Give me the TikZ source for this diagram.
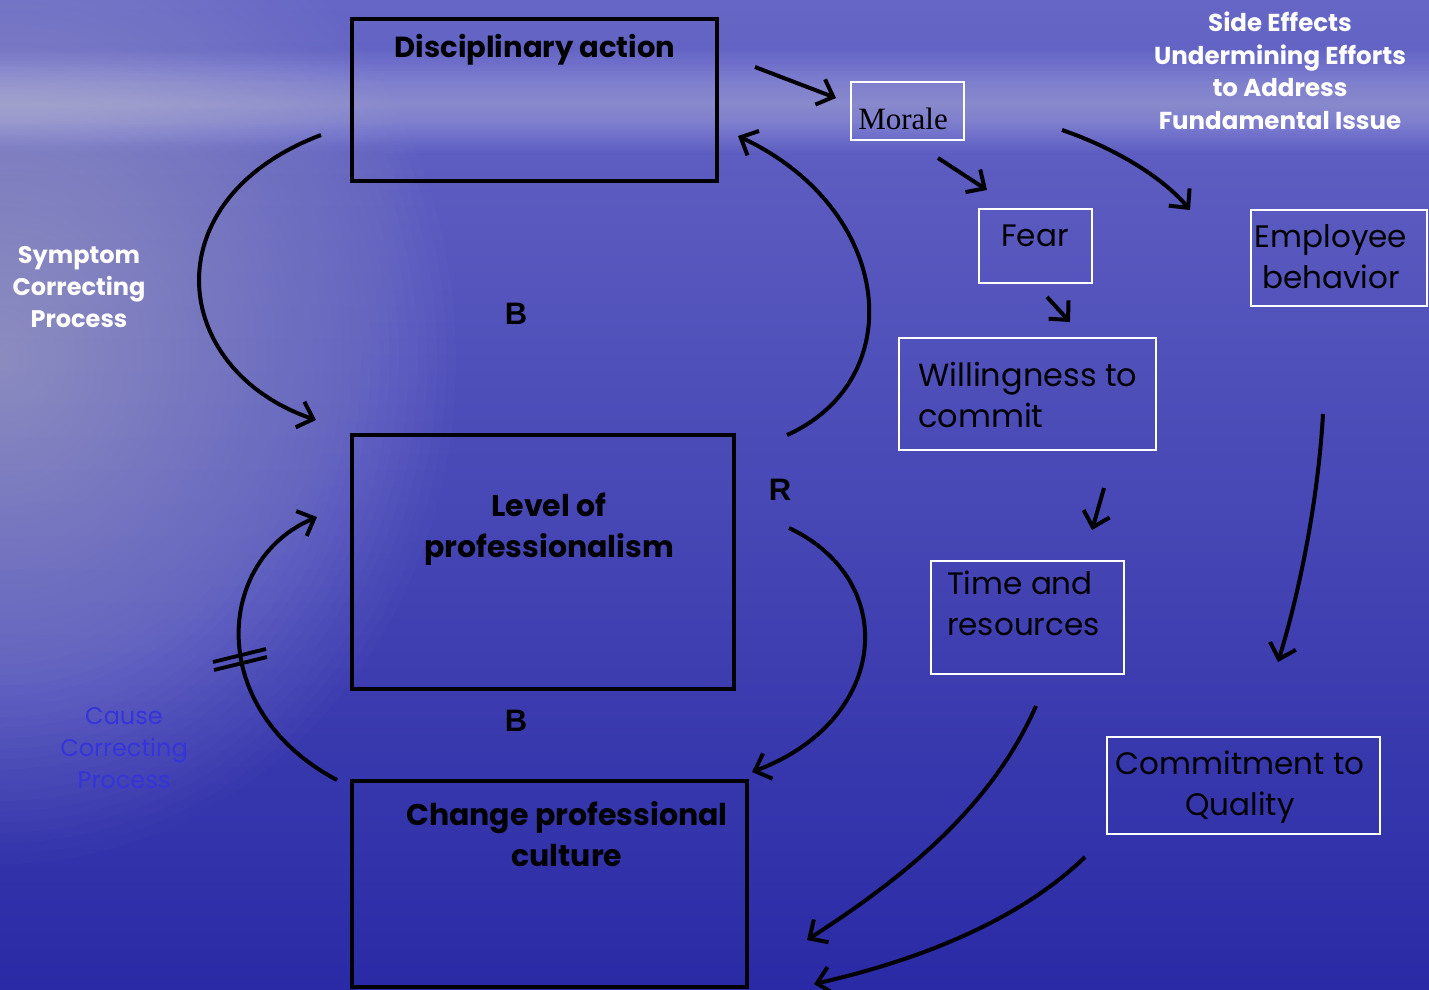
\documentclass[tikz,border=0pt]{standalone}
\usepackage{fontspec}
\setmainfont{Poppins}
\newfontfamily\timesf{Liberation Serif}
\newfontfamily\arialf{Liberation Sans}
\usetikzlibrary{arrows.meta}
\definecolor{bgtop}{HTML}{6666C6}
\definecolor{bgmid}{HTML}{4646B6}
\definecolor{bgbot}{HTML}{2A2AA6}
\definecolor{glowc}{HTML}{E4E4FF}
\definecolor{causeblue}{HTML}{3434DA}
\begin{document}
\begin{tikzpicture}[x=1pt,y=-1pt,
  bbox/.style={draw=black, line width=3.8pt, inner sep=0pt, outer sep=0pt},
  wbox/.style={draw=white, line width=2.6pt, inner sep=0pt, outer sep=0pt},
  arr/.style={draw=black, line width=4pt, -{Straight Barb[length=14pt,width=27pt]}},
  boldlab/.style={font=\fontsize{30}{41}\selectfont\bfseries, align=center, inner sep=0pt},
  reglab/.style={font=\fontsize{31}{41}\selectfont, inner sep=0pt},
  sidelab/.style={font=\fontsize{24.5}{32.5}\selectfont\bfseries, align=center, inner sep=0pt, text=white},
  looplab/.style={font=\fontsize{31}{31}\selectfont\arialf\bfseries, inner sep=0pt}]
% background
\useasboundingbox (0,0) rectangle (1429,989);
\shade[top color=bgtop, middle color=bgmid, bottom color=bgbot] (0,0) rectangle (1429,989);
\foreach \i in {1,...,24}
  \fill[glowc, fill opacity=0.018] (0,{105-\i*2.3}) rectangle (1429,{105+\i*2});
\foreach \i in {1,...,48}
  \fill[glowc, fill opacity=0.016] (0,360) ellipse ({\i*9.5pt} and {\i*10.5pt});
% boxes
\node[bbox, minimum width=365pt, minimum height=162pt] (disc) at (534.5,100) {};
\node[bbox, minimum width=382pt, minimum height=254pt] (level) at (543,562) {};
\node[bbox, minimum width=395pt, minimum height=206pt] (change) at (549.5,884) {};
\node[wbox, minimum width=113pt, minimum height=58pt] (morale) at (907.5,111) {};
\node[wbox, minimum width=113pt, minimum height=74pt] (fear) at (1035.5,246) {};
\node[wbox, minimum width=176pt, minimum height=96pt] (emp) at (1339,258) {};
\node[wbox, minimum width=257pt, minimum height=112pt] (will) at (1027.5,394) {};
\node[wbox, minimum width=193pt, minimum height=113pt] (time) at (1027.5,617.5) {};
\node[wbox, minimum width=273pt, minimum height=97pt] (commit) at (1243.5,785.5) {};
% texts
\node[boldlab, font=\fontsize{29}{41}\selectfont\bfseries] (disct) at (535,50) {Disciplinary action};
\node[boldlab] (levelt) at (549,529) {Level of\\professionalism};
\node[boldlab] (changet) at (567,834) {Change professional\\culture};
\node[font=\fontsize{31}{31}\selectfont\timesf, inner sep=0pt] (moralet) at (903,119) {Morale};
\node[reglab] (feart) at (1035,236) {Fear};
\node[reglab, align=center] (empt) at (1331,257) {Employee\\behavior};
\node[reglab, font=\fontsize{32}{41}\selectfont, align=left, anchor=west] (willt) at (918,395) {Willingness to\\commit};
\node[reglab, align=left, anchor=west] (timet) at (947,603) {Time and\\resources};
\node[reglab, align=center] (committ) at (1240,787) {Commitment to\\Quality};
\node[sidelab, font=\fontsize{24}{32}\selectfont\bfseries] (symp) at (79,287) {Symptom\\Correcting\\Process};
\node[sidelab, font=\fontsize{24}{32}\selectfont, text=causeblue] (cause) at (124,748) {Cause\\Correcting\\Process};
\node[sidelab] (side) at (1280,71) {Side Effects\\Undermining Efforts\\to Address\\Fundamental Issue};
\node[looplab] (b1) at (516,314) {B};
\node[looplab] (b2) at (516,721) {B};
\node[looplab] (r1) at (780,490) {R};
% connector end points
\coordinate (a1s) at (755,67);   \coordinate (a1e) at (836,98);
\coordinate (a2s) at (938,158);  \coordinate (a2e) at (987,190);
\coordinate (a3s) at (1047,297); \coordinate (a3e) at (1070,322);
\coordinate (a4s) at (1104,488); \coordinate (a4e) at (1092,530);
\coordinate (a5s) at (1062,130); \coordinate (a5e) at (1190,210);
\coordinate (a6s) at (1323,414); \coordinate (a6e) at (1278,662);
\coordinate (a7s) at (1036,706); \coordinate (a7e) at (807,940);
\coordinate (a8s) at (1085,857); \coordinate (a8e) at (814,984);
\coordinate (l1s) at (321,135);  \coordinate (l1e) at (316,420);
\coordinate (l2s) at (787,435);  \coordinate (l2e) at (738,136);
\coordinate (l3s) at (789,528);  \coordinate (l3e) at (752,772);
\coordinate (l4s) at (337,780);  \coordinate (l4e) at (317,517);
\coordinate (t1s) at (213,662);  \coordinate (t1e) at (266,649);
\coordinate (t2s) at (214,670);  \coordinate (t2e) at (267,657);
% connectors
\draw[arr] (a1s) -- (a1e);
\draw[arr] (a2s) -- (a2e);
\draw[arr] (a3s) -- (a3e);
\draw[arr] (a4s) -- (a4e);
\draw[arr] (a5s) .. controls (1120,150) and (1165,180) .. (a5e);
\draw[arr] (a6s) .. controls (1318,500) and (1300,590) .. (a6e);
\draw[arr] (a7s) .. controls (990,810) and (900,880) .. (a7e);
\draw[arr] (a8s) .. controls (1020,920) and (920,960) .. (a8e);
\draw[arr] (l1s) .. controls (150,200) and (170,370) .. (l1e);
\draw[arr] (l2s) .. controls (910,380) and (895,210) .. (l2e);
\draw[arr] (l3s) .. controls (900,580) and (890,720) .. (l3e);
\draw[arr] (l4s) .. controls (205,710) and (215,560) .. (l4e);
\draw[line width=3.8pt] (t1s) -- (t1e);
\draw[line width=3.8pt] (t2s) -- (t2e);
\end{tikzpicture}
\end{document}
